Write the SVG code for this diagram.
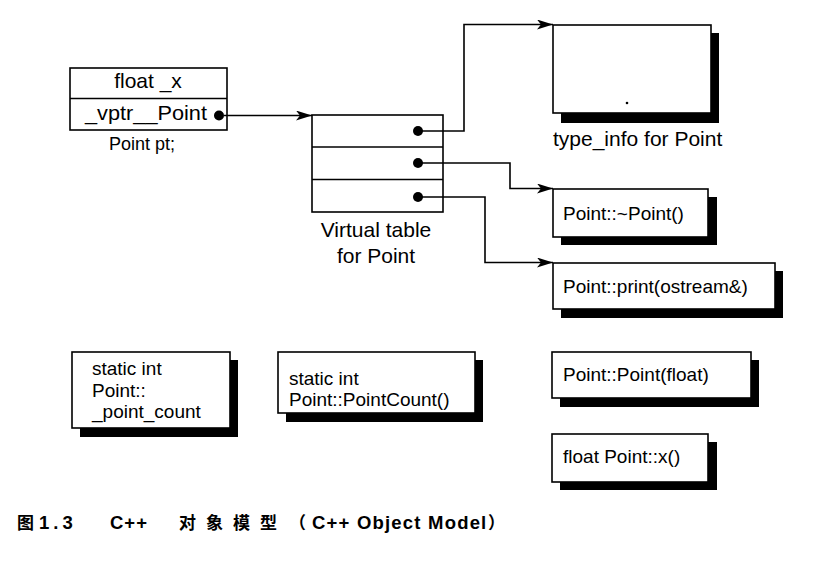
<svg xmlns="http://www.w3.org/2000/svg" width="817" height="561" viewBox="0 0 817 561">
<defs>
<marker id="arr" viewBox="0 0 16 10" refX="16" refY="5" markerWidth="16" markerHeight="10" markerUnits="userSpaceOnUse" orient="auto">
<path d="M0,0 L16,5 L0,10 L4,5 Z" fill="#000"/>
</marker>
</defs>
<style>
.box{fill:#fff;stroke:#000;stroke-width:1.6}
.sh{fill:#000}
.t{font-family:"Liberation Sans",Arial,sans-serif;font-size:19px;fill:#000}
.lbl{font-family:"Liberation Sans",Arial,sans-serif;font-size:21px;fill:#000}
.dot{fill:#000}
.conn{fill:none;stroke:#000;stroke-width:1.6}
.cap{font-family:"Liberation Sans","Noto Sans CJK SC",sans-serif;font-size:18.5px;font-weight:bold;fill:#000}
.cjk{font-family:"Noto Sans CJK SC",sans-serif;font-size:17px;font-weight:bold;fill:#000}
</style>
<rect width="817" height="561" fill="#fff"/>

<g id="point-pt">
<rect class="box" x="70" y="68" width="157" height="62"/>
<line x1="70" y1="98.5" x2="227" y2="98.5" stroke="#000" stroke-width="1.6"/>
<text class="lbl" x="148" y="88" text-anchor="middle">float _x</text>
<text class="lbl" x="85" y="120" textLength="122" lengthAdjust="spacingAndGlyphs">_vptr__Point</text>
<circle class="dot" cx="219" cy="115.5" r="5"/>
<text class="lbl" x="142" y="150" text-anchor="middle" style="font-size:18px">Point pt;</text>
</g>

<g id="vtable">
<rect class="box" x="312" y="115" width="131" height="97"/>
<line x1="312" y1="147" x2="443" y2="147" stroke="#000" stroke-width="1.6"/>
<line x1="312" y1="179.5" x2="443" y2="179.5" stroke="#000" stroke-width="1.6"/>
<circle class="dot" cx="418" cy="131" r="5"/>
<circle class="dot" cx="418" cy="163" r="5"/>
<circle class="dot" cx="418" cy="197" r="5"/>
<text class="lbl" x="376" y="237" text-anchor="middle">Virtual table</text>
<text class="lbl" x="376" y="263" text-anchor="middle">for Point</text>
</g>

<g id="type-info">
<rect class="sh" x="561" y="33" width="158" height="90"/>
<rect class="box" x="553" y="25" width="158" height="88"/>
<circle cx="627" cy="103" r="1.3" fill="#000"/>
<text class="lbl" x="553" y="146">type_info for Point</text>
</g>

<g id="dtor">
<rect class="sh" x="561" y="197" width="156" height="48"/>
<rect class="box" x="553" y="189" width="155" height="48"/>
<text class="t" x="563" y="220">Point::~Point()</text>
</g>

<g id="print">
<rect class="sh" x="561" y="271" width="222" height="47"/>
<rect class="box" x="553" y="263" width="222" height="46"/>
<text class="t" x="563" y="293">Point::print(ostream&amp;)</text>
</g>

<g id="static-count">
<rect class="sh" x="80" y="360" width="158" height="77"/>
<rect class="box" x="72" y="352" width="158" height="76"/>
<text class="t" x="92" y="375">static int</text>
<text class="t" x="92" y="397">Point::</text>
<text class="t" x="92" y="418">_point_count</text>
</g>

<g id="static-fn">
<rect class="sh" x="286" y="360" width="197" height="62"/>
<rect class="box" x="278" y="352" width="197" height="61"/>
<text class="t" x="289" y="385">static int</text>
<text class="t" x="289" y="406">Point::PointCount()</text>
</g>

<g id="ctor">
<rect class="sh" x="560" y="360" width="199" height="47"/>
<rect class="box" x="552" y="352" width="199" height="46"/>
<text class="t" x="563" y="381">Point::Point(float)</text>
</g>

<g id="getx">
<rect class="sh" x="560" y="442" width="157" height="48"/>
<rect class="box" x="552" y="434" width="156" height="48"/>
<text class="t" x="563" y="463">float Point::x()</text>
</g>

<g id="connectors">
<polyline class="conn" points="224,115.5 312,115.5" marker-end="url(#arr)"/>
<polyline class="conn" points="418,131 464,131 464,24.5 553,24.5" marker-end="url(#arr)"/>
<polyline class="conn" points="418,163 510,163 510,188.5 553,188.5" marker-end="url(#arr)"/>
<polyline class="conn" points="418,197 485,197 485,262.5 553,262.5" marker-end="url(#arr)"/>
</g>

<g id="caption">
<text class="cjk" x="17" y="529">图</text>
<text class="cap" x="39" y="529" style="letter-spacing:4px">1.3</text>
<text class="cap" x="110" y="529" style="letter-spacing:1px">C++</text>
<text class="cjk" x="179" y="529" style="letter-spacing:10px">对象模型</text>
<text class="cjk" x="289" y="529">（</text>
<text class="cap" x="312" y="529" style="letter-spacing:1.2px">C++ Object Model</text>
<text class="cjk" x="488" y="529">）</text>
</g>
</svg>
